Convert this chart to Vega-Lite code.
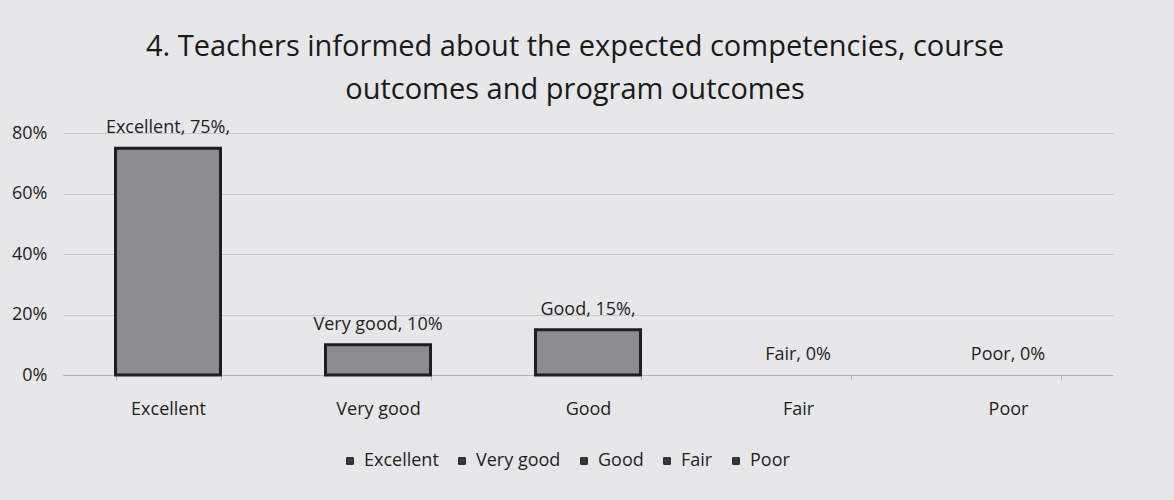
{
  "$schema": "https://vega.github.io/schema/vega-lite/v6.json",
  "width": 1050,
  "height": 242,
  "autosize": "none",
  "padding": {"left": 63, "top": 133, "right": 61, "bottom": 125},
  "background": "#e7e7e9",
  "title": {
    "text": ["4. Teachers informed about the expected competencies, course", "outcomes and program outcomes"],
    "font": "Open Sans",
    "fontSize": 29,
    "fontWeight": "normal",
    "color": "#1a1a1a",
    "lineHeight": 43,
    "anchor": "middle",
    "dx": -13,
    "offset": 14
  },
  "data": {
    "values": [
      {"rating": "Excellent", "pct": 0.75, "label": "Excellent, 75%,"},
      {"rating": "Very good", "pct": 0.10, "label": "Very good, 10%"},
      {"rating": "Good", "pct": 0.15, "label": "Good, 15%,"},
      {"rating": "Fair", "pct": 0.0, "label": "Fair, 0%"},
      {"rating": "Poor", "pct": 0.0, "label": "Poor, 0%"}
    ]
  },
  "config": {
    "view": {"stroke": null},
    "font": "Open Sans"
  },
  "encoding": {
    "x": {
      "field": "rating",
      "type": "nominal",
      "sort": ["Excellent", "Very good", "Good", "Fair", "Poor"],
      "scale": {"paddingInner": 0.5, "paddingOuter": 0.25},
      "axis": {
        "title": null,
        "labelAngle": 0,
        "labelFont": "Open Sans",
        "labelFontSize": 18,
        "labelColor": "#1f1f1f",
        "labelPadding": 20,
        "domainColor": "#b5b5b5",
        "tickColor": "#b5b5b5",
        "tickBand": "extent",
        "tickSize": 5
      }
    },
    "y": {
      "field": "pct",
      "type": "quantitative",
      "scale": {"domain": [0, 0.8]},
      "axis": {
        "title": null,
        "format": ".0%",
        "values": [0, 0.2, 0.4, 0.6, 0.8],
        "labelOverlap": false,
        "labelFont": "Open Sans",
        "labelFontSize": 18,
        "labelColor": "#1f1f1f",
        "labelPadding": 16,
        "domain": false,
        "ticks": false,
        "grid": true,
        "gridColor": "#c8c8c8",
        "gridWidth": 1
      }
    }
  },
  "layer": [
    {
      "transform": [{"filter": "datum.pct > 0"}],
      "mark": {"type": "bar", "stroke": "#1e1e1e", "strokeWidth": 3, "fill": "#8b8b90"},
      "encoding": {
        "color": {
          "field": "rating",
          "type": "nominal",
          "sort": ["Excellent", "Very good", "Good", "Fair", "Poor"],
          "scale": {
            "domain": ["Excellent", "Very good", "Good", "Fair", "Poor"],
            "range": ["#3a3a3c", "#3a3a3c", "#3a3a3c", "#3a3a3c", "#3a3a3c"]
          },
          "legend": {
            "title": null,
            "orient": "none",
            "direction": "horizontal",
            "legendX": 278,
            "legendY": 319,
            "symbolType": "square",
            "symbolSize": 45,
            "symbolStrokeColor": "#1e1e1e",
            "symbolStrokeWidth": 1,
            "labelFont": "Open Sans",
            "labelFontSize": 18,
            "labelColor": "#1f1f1f",
            "columnPadding": 14,
            "labelOffset": 5
          }
        }
      }
    },
    {
      "mark": {"type": "text", "baseline": "bottom", "dy": -11, "fontSize": 18, "color": "#1f1f1f", "font": "Open Sans"},
      "encoding": {"text": {"field": "label"}}
    }
  ]
}
